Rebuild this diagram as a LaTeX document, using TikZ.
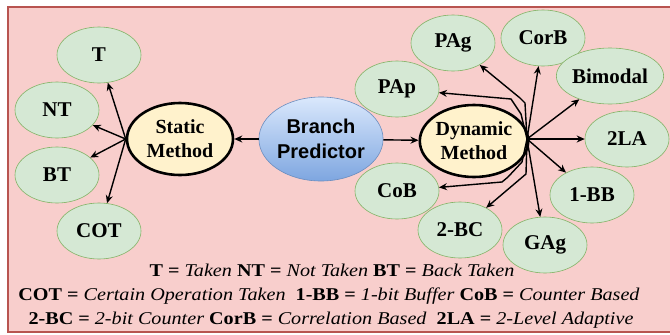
\documentclass[tikz,border=0pt]{standalone}
\usepackage{fontspec}
\setmainfont{Liberation Serif}
\newfontfamily\timesfont{Liberation Serif}
\newfontfamily\arialfont{Liberation Sans}
\usetikzlibrary{shapes.geometric,arrows.meta}
\definecolor{bgred}{HTML}{F8CECC}
\definecolor{bdred}{HTML}{B85450}
\definecolor{lgreen}{HTML}{D5E8D4}
\definecolor{dgreen}{HTML}{82B366}
\definecolor{lyellow}{HTML}{FFF2CC}
\definecolor{lblue}{HTML}{DAE8FC}
\definecolor{mblue}{HTML}{7EA6E0}
\definecolor{dblue}{HTML}{6C8EBF}
\begin{document}
\begin{tikzpicture}[x=1pt,y=-1pt,
  leaf/.style={ellipse,draw=dgreen,fill=lgreen,line width=0.6pt,minimum width=84pt,minimum height=56pt,inner sep=0pt,font=\timesfont\fontsize{21}{23}\selectfont\bfseries},
  method/.style={ellipse,draw=black,fill=lyellow,line width=2.6pt,minimum width=106pt,minimum height=72pt,inner sep=0pt,align=center,font=\timesfont\fontsize{20}{24}\selectfont\bfseries},
  root/.style={ellipse,draw=dblue,top color=lblue,bottom color=mblue,line width=0.6pt,minimum width=105pt,minimum height=84pt,inner sep=0pt,align=center,font=\arialfont\fontsize{20}{25}\selectfont\bfseries},
  arr/.style={draw=black,line width=1.4pt,-{Stealth[length=8pt,width=7pt]}},
  legend/.style={font=\timesfont\fontsize{18}{20}\selectfont,inner sep=0pt}
]
\useasboundingbox (0,0) rectangle (670,335);
\draw[fill=bgred,draw=bdred,line width=2pt] (8,7) rectangle (690,332);

\node[root] (bp) at (321,139) {Branch\\Predictor};
\node[method] (sm) at (180,139) {Static\\Method};
\node[method] (dm) at (474,141) {Dynamic\\Method};

\node[leaf] (t) at (99,55) {T};
\node[leaf] (nt) at (57,110) {NT};
\node[leaf] (bt) at (57,175) {BT};
\node[leaf] (cot) at (99,231) {COT};

\node[leaf] (pap) at (397,89) {PAp};
\node[leaf] (pag) at (453,43) {PAg};
\node[leaf] (corb) at (543,38) {CorB};
\node[leaf] (bim) at (610,76) {Bimodal};
\node[leaf] (tla) at (627,139) {2LA};
\node[leaf] (obb) at (592,195) {1-BB};
\node[leaf] (gag) at (545,245) {GAg};
\node[leaf] (tbc) at (460,230) {2-BC};
\node[leaf] (cob) at (397,191) {CoB};

\draw[arr] (bp) -- (sm);
\draw[arr] (bp) -- (dm);

\coordinate (so) at (sm.west);
\draw[arr] (so) -- (t);
\draw[arr] (so) -- (nt);
\draw[arr] (so) -- (bt);
\draw[arr] (so) -- (cot);

\coordinate (do) at (527,139);
\draw[arr] (do) -- (521,114) -- (511,99) -- (pap);
\draw[arr] (do) -- (525,103) -- (520,98) -- (pag);
\draw[arr] (do) -- (corb);
\draw[arr] (do) -- (bim);
\draw[arr] (do) -- (tla);
\draw[arr] (do) -- (obb);
\draw[arr] (do) -- (gag);
\draw[arr] (do) -- (526,174) -- (tbc);
\draw[arr] (do) -- (522,162) -- (508,177) -- (502,182) -- (cob);

\node[legend] (l1) at (332,270) {\scalebox{1.12}[1]{\textbf{T =} \textit{Taken} \textbf{NT =} \textit{Not Taken} \textbf{BT =} \textit{Back Taken}}};
\node[legend] (l2) at (329,296) {\scalebox{1.12}[1]{\textbf{COT =} \textit{Certain Operation Taken}\enspace\textbf{1-BB =} \textit{1-bit Buffer} \textbf{CoB =} \textit{Counter Based}}};
\node[legend] (l3) at (331,320) {\scalebox{1.12}[1]{\textbf{2-BC =} \textit{2-bit Counter} \textbf{CorB =} \textit{Correlation Based}\enspace\textbf{2LA =} \textit{2-Level Adaptive}}};
\end{tikzpicture}
\end{document}
